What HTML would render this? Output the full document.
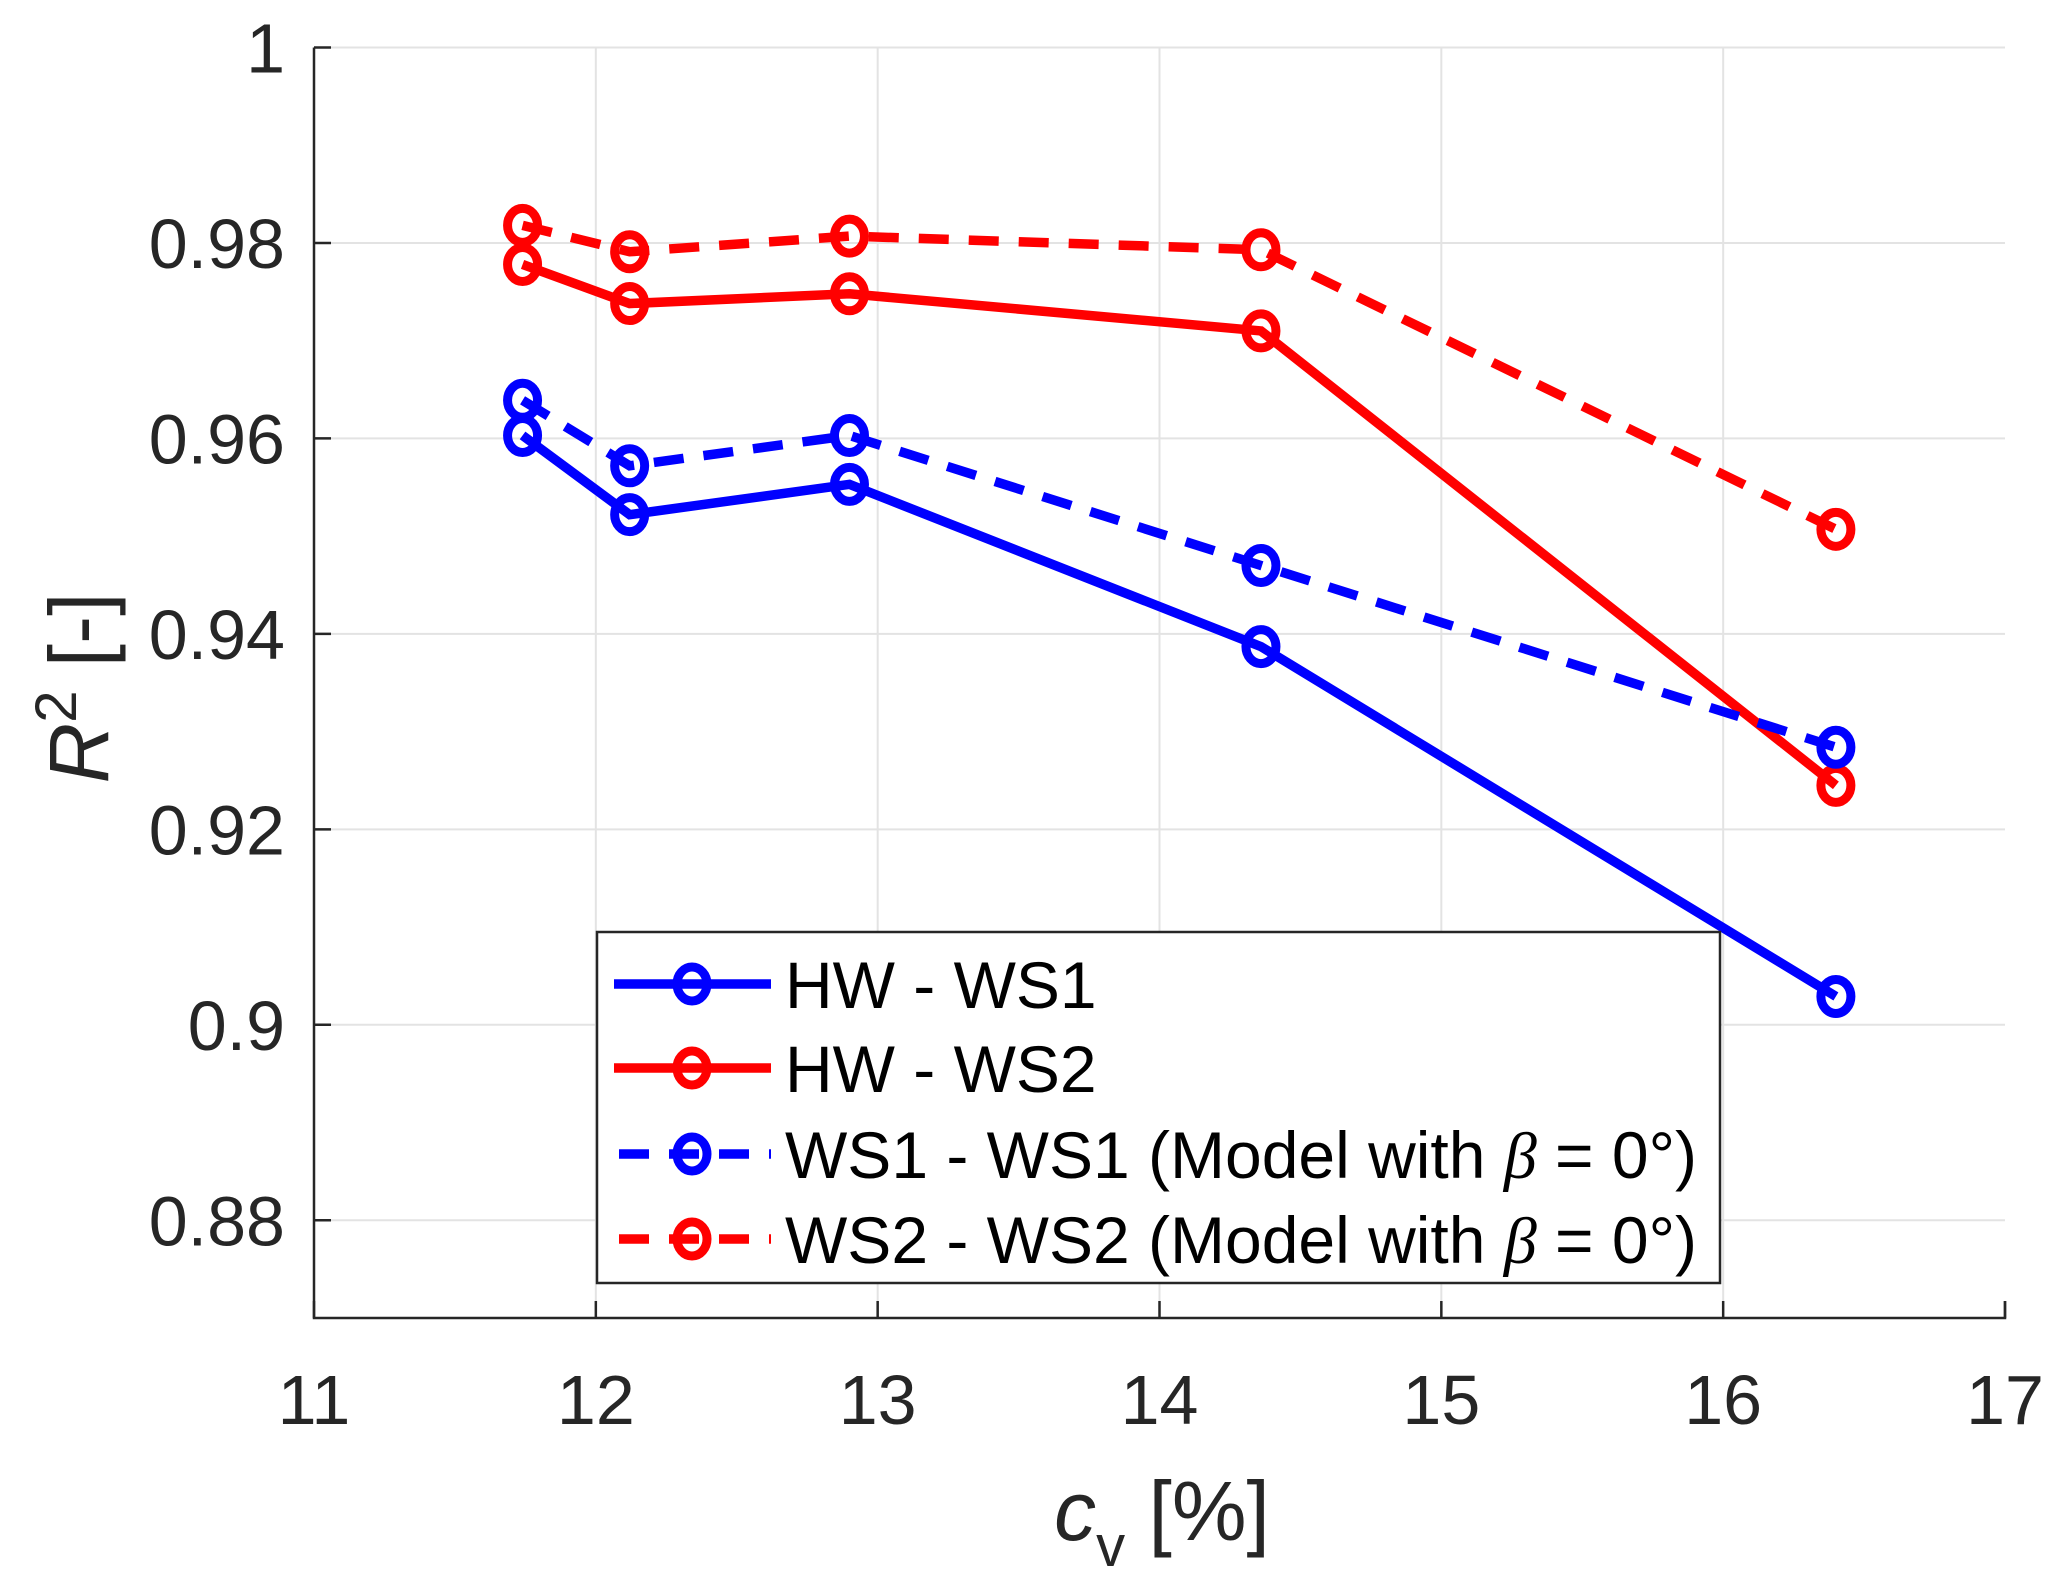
<!DOCTYPE html>
<html><head><meta charset="utf-8"><style>
html,body{margin:0;padding:0;background:#fff}
svg{display:block;font-family:"Liberation Sans",sans-serif}
</style></head><body>
<svg id="chart" width="2067" height="1592" viewBox="0 0 2067 1592">
<g id="grid"></g>
<g id="axes"></g>
<g id="series"></g>
<g id="legend"></g>
</svg>
<script>
const xTicks = [11, 12, 13, 14, 15, 16, 17];
const yTicks = [0.88, 0.9, 0.92, 0.94, 0.96, 0.98, 1];
const yTickLabels = ["0.88", "0.9", "0.92", "0.94", "0.96", "0.98", "1"];
const cv = [11.74, 12.12, 12.9, 14.36, 16.4];
const hwWs1 = [0.9603, 0.9522, 0.9553, 0.9387, 0.9029];
const hwWs2 = [0.9778, 0.9738, 0.9748, 0.9710, 0.9245];
const ws1Ws1 = [0.9639, 0.9572, 0.9603, 0.9470, 0.9284];
const ws2Ws2 = [0.9818, 0.9791, 0.9807, 0.9793, 0.9507];
const seriesNames = ["HW - WS1", "HW - WS2", "WS1 - WS1 (Model with ", "WS2 - WS2 (Model with "];

const NS = "http://www.w3.org/2000/svg";
const L = 314, R = 2005, T = 47.5, B = 1318;
const xMin = 11, xMax = 17, yMin = 0.87, yMax = 1;
const xs = v => L + (v - xMin) / (xMax - xMin) * (R - L);
const ys = v => B - (v - yMin) / (yMax - yMin) * (B - T);
function mk(tag, attrs, parent) {
  const e = document.createElementNS(NS, tag);
  for (const k in attrs) e.setAttribute(k, attrs[k]);
  parent.appendChild(e);
  return e;
}
const grid = document.getElementById('grid');
const axes = document.getElementById('axes');
const ser = document.getElementById('series');
const leg = document.getElementById('legend');
const txt = '#262626';

xTicks.forEach((t, i) => {
  const x = xs(t);
  if (i > 0 && i < xTicks.length - 1) {
    const g = mk('line', {x1: x, x2: x, y1: T, y2: B, stroke: '#e3e3e3', 'stroke-width': 2}, grid);
    
    
  }
  const tk = mk('line', {x1: x, x2: x, y1: B, y2: B - 17, stroke: txt, 'stroke-width': 2.5}, axes);
  
  
  const lb = mk('text', {x: x, y: 1424, 'font-size': 70, fill: txt, 'text-anchor': 'middle'}, axes);
  lb.textContent = t;
  
  
});
yTicks.forEach((t, i) => {
  const y = ys(t);
  const g = mk('line', {x1: L, x2: R, y1: y, y2: y, stroke: '#e3e3e3', 'stroke-width': 2}, grid);
  
  
  const tk = mk('line', {x1: L, x2: L + 17, y1: y, y2: y, stroke: txt, 'stroke-width': 2.5}, axes);
  
  
  const lb = mk('text', {x: 285, y: y + 25, 'font-size': 70, fill: txt, 'text-anchor': 'end'}, axes);
  lb.textContent = yTickLabels[i];
  
  
});
const ax = mk('path', {d: `M${L},${T} L${L},${B} L${R},${B} L${R},${B-17}`, fill: 'none', stroke: txt, 'stroke-width': 2.5}, axes);



const xt = mk('text', {x: 1162, y: 1540, 'font-size': 84, fill: txt, 'text-anchor': 'middle'}, axes);
xt.innerHTML = '<tspan font-style="italic">c</tspan><tspan font-size="58" dy="26">v</tspan><tspan dy="-26"> [%]</tspan>';


const yt = mk('text', {x: 0, y: 0, 'font-size': 84, fill: txt, 'text-anchor': 'middle', transform: 'translate(108,688) rotate(-90)'}, axes);
yt.innerHTML = '<tspan font-style="italic">R</tspan><tspan font-size="58" dy="-32">2</tspan><tspan dy="32"> [-]</tspan>';



const defs = [
  {vals: hwWs1, color: '#0000ff', dash: null, name: 'hw-ws1'},
  {vals: hwWs2, color: '#ff0000', dash: null, name: 'hw-ws2'},
  {vals: ws1Ws1, color: '#0000ff', dash: '30 20', name: 'ws1-ws1'},
  {vals: ws2Ws2, color: '#ff0000', dash: '30 20', name: 'ws2-ws2'}
];
defs.forEach(s => {
  const g = mk('g', {}, ser);
  
  
  const pts = cv.map((c, i) => xs(c) + ',' + ys(s.vals[i])).join(' ');
  const pl = mk('polyline', {points: pts, fill: 'none', stroke: s.color, 'stroke-width': 9.5}, g);
  if (s.dash) pl.setAttribute('stroke-dasharray', s.dash);
  
  
  cv.forEach((c, i) => {
    const m = mk('ellipse', {cx: xs(c), cy: ys(s.vals[i]), rx: 15, ry: 17, fill: 'none', stroke: s.color, 'stroke-width': 9}, g);
    
    
  });
});

const box = mk('rect', {x: 597, y: 932, width: 1123, height: 351, fill: '#fff', stroke: txt, 'stroke-width': 2.5}, leg);


const ly = [984, 1068, 1154, 1239];
defs.forEach((s, i) => {
  const g = mk('g', {}, leg);
  
  
  const ln = mk('line', {x1: 614, x2: 771, y1: ly[i], y2: ly[i], stroke: s.color, 'stroke-width': 9.5}, g);
  if (s.dash) ln.setAttribute('stroke-dasharray', '30 20');
  if (s.dash) ln.setAttribute('stroke-dashoffset', '-5');
  const m = mk('ellipse', {cx: 692, cy: ly[i], rx: 15, ry: 17, fill: 'none', stroke: s.color, 'stroke-width': 9}, g);
  const t = mk('text', {x: 785, y: ly[i] + 24, 'font-size': 66, fill: '#000'}, g);
  if (i < 2) t.textContent = seriesNames[i];
  else t.innerHTML = seriesNames[i] + '<tspan font-family="Liberation Serif" font-style="italic">β</tspan> = 0°)';
});
</script>
</body></html>
